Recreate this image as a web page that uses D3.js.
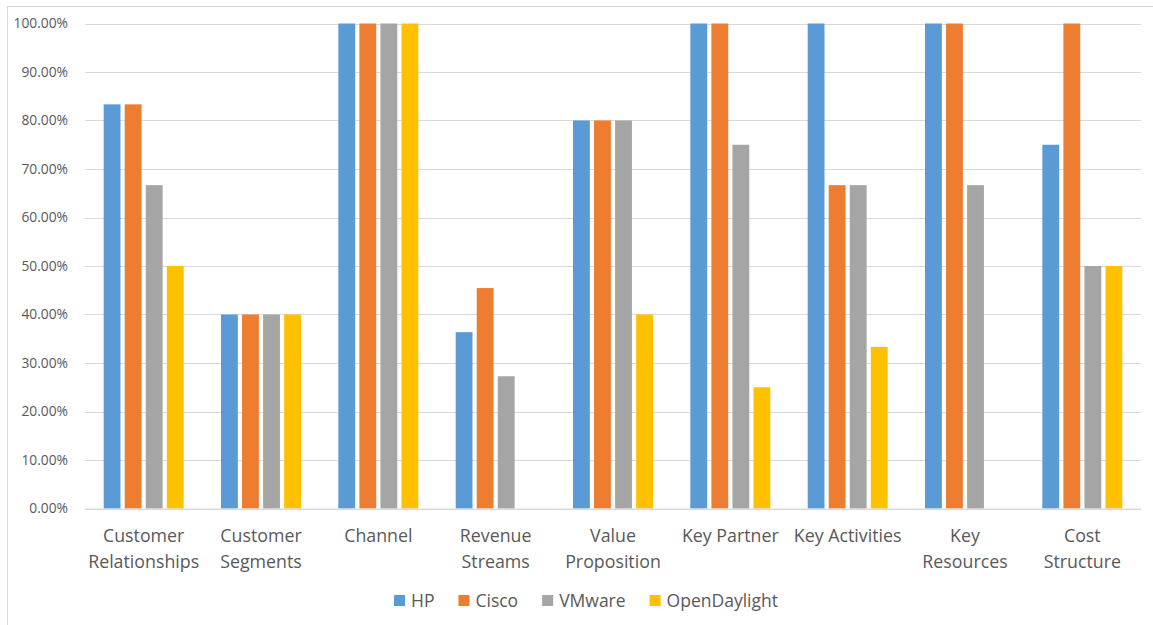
<!DOCTYPE html>
<html><head><meta charset="utf-8">
<script src="https://cdn.jsdelivr.net/npm/d3@7"></script>
<style>body{margin:0;background:#fff;} text{font-family:"Open Sans",sans-serif;fill:#595959;}</style>
</head><body>
<svg id="c" width="1153" height="625"></svg>
<script>
const categories = [["Customer","Relationships"],["Customer","Segments"],["Channel"],["Revenue","Streams"],["Value","Proposition"],["Key Partner"],["Key Activities"],["Key","Resources"],["Cost","Structure"]];
const seriesNames = ["HP","Cisco","VMware","OpenDaylight"];
const hp =           [83.33, 40, 100, 36.36, 80, 100, 100, 100, 75];
const cisco =        [83.33, 40, 100, 45.45, 80, 100, 66.67, 100, 100];
const vmware =       [66.67, 40, 100, 27.27, 80, 75, 66.67, 66.67, 50];
const openDaylight = [50, 40, 100, 0, 40, 25, 33.33, 0, 50];
const yTicks = [0,10,20,30,40,50,60,70,80,90,100];
const colors = ["#5B9BD5","#ED7D31","#A5A5A5","#FFC000"];
const seriesValues = [hp, cisco, vmware, openDaylight];

(function(){
const svg = d3.select("#c");
svg.append("rect").attr("x",7.5).attr("y",6.5).attr("width",1160).attr("height",640)
  .attr("fill","#fff").attr("stroke","#d9d9d9").attr("stroke-width",1);

const pL = 85, pR = 1141, pT = 23.5, pB = 508.5;
const x = d3.scaleBand().domain(d3.range(categories.length)).range([pL,pR]).padding(0);
const y = d3.scaleLinear().domain([0,100]).range([pB, pT]);
const groupW = 80;
const xs = d3.scaleBand().domain(d3.range(seriesNames.length)).range([0,groupW]).paddingInner(0.2).paddingOuter(0);

// gridlines
svg.append("g").selectAll("line").data(yTicks).join("line")
  .attr("x1",pL).attr("x2",pR).attr("y1",d=>Math.round(y(d))+0.5).attr("y2",d=>Math.round(y(d))+0.5)
  .attr("stroke","#d9d9d9").attr("stroke-width",1);

// y labels
const yAxis = d3.axisLeft(y).tickValues(yTicks).tickFormat(d=>d.toFixed(2)+"%").tickSize(0).tickPadding(17);
const ga = svg.append("g").attr("transform",`translate(${pL},0)`).call(yAxis);
ga.select(".domain").remove();
ga.selectAll("text").style("font-size","13.8px").attr("fill","#595959").style("font-family","'Open Sans',sans-serif");

// bars
seriesValues.forEach((vals,si)=>{
  svg.append("g").selectAll("rect").data(vals).join("rect")
    .attr("x",(d,i)=>x(i)+x.bandwidth()/2-groupW/2+xs(si))
    .attr("width",xs.bandwidth())
    .attr("y",d=>y(d))
    .attr("height",d=>pB-y(d))
    .attr("fill",colors[si]);
});

// baseline
svg.append("line").attr("x1",pL).attr("x2",pR).attr("y1",pB+0.5).attr("y2",pB+0.5).attr("stroke","#d9d9d9");

// category labels
const cl = svg.append("g").selectAll("text").data(categories).join("text")
  .attr("x",(d,i)=>x(i)+x.bandwidth()/2).attr("text-anchor","middle").style("font-size","17.8px");
cl.each(function(d,i){
  const t=d3.select(this);
  d.forEach((line,k)=>t.append("tspan").attr("x",x(i)+x.bandwidth()/2).attr("y",542+k*26).text(line));
});

// legend
const lg = svg.append("g");
const items = lg.selectAll("g").data(seriesNames).join("g");
items.append("rect").attr("width",11).attr("height",11).attr("y",595).attr("fill",(d,i)=>colors[i]);
items.append("text").attr("x",17).attr("y",606.5).style("font-size","17.5px").text(d=>d);
const widths=[];
items.each(function(){ widths.push(17+d3.select(this).select("text").node().getComputedTextLength()); });
const gap=24; const total=d3.sum(widths)+gap*(widths.length-1);
let start=586-total/2;
items.attr("transform",(d,i)=>{const tx=start; start+=widths[i]+gap; return `translate(${tx},0)`;});
})();
</script>
</body></html>
